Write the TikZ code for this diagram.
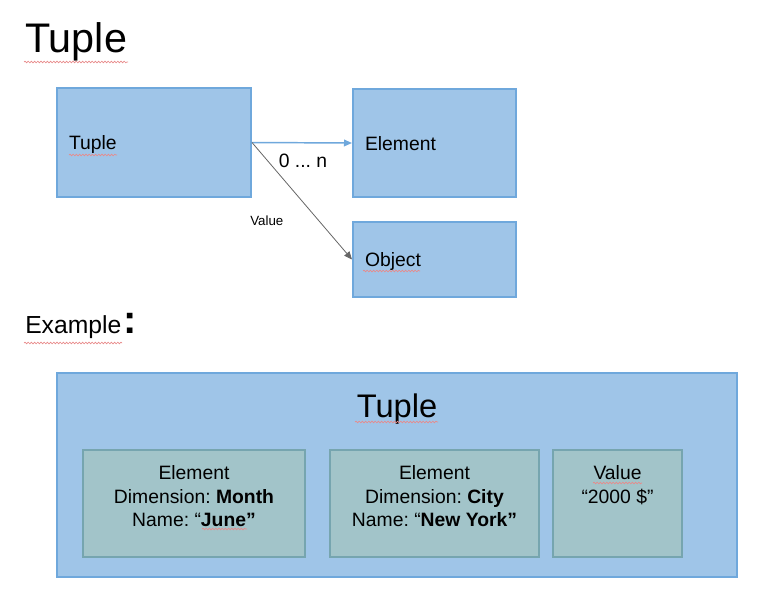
\documentclass[tikz,border=0pt]{standalone}
\usepackage{fontspec}
\setmainfont{Liberation Sans}
\usetikzlibrary{positioning,arrows.meta,decorations.pathmorphing}
\frenchspacing

\definecolor{boxblue}{HTML}{9FC5E8}
\definecolor{lineblue}{HTML}{6FA8DC}
\definecolor{boxteal}{HTML}{A2C4C9}
\definecolor{lineteal}{HTML}{76A5AF}
\definecolor{spellred}{HTML}{E88A8A}

\tikzset{
  bluebox/.style={draw=lineblue,fill=boxblue,line width=1.5pt,rectangle,inner sep=0pt},
  tealbox/.style={draw=lineteal,fill=boxteal,line width=1.5pt,rectangle,inner sep=0pt},
  lefttext/.style={align=left,inner xsep=9pt,inner ysep=0pt,text depth=0pt,font=\fontsize{14.5}{17.6}\selectfont},
  intext/.style={align=center,inner sep=0pt,font=\fontsize{14.5}{17.6}\selectfont},
  spell/.style={spellred,line width=0.5pt,decorate,
    decoration={snake,segment length=2.4pt,amplitude=0.6pt}}
}

\begin{document}
\begin{tikzpicture}[x=0.75pt,y=-0.75pt]
\useasboundingbox (0,0) rectangle (764,597);

% Heading
\node[anchor=base west,inner sep=0pt,font=\fontsize{31}{36}\selectfont] (title) at (25,52) {Tuple};

% Model boxes
\node[bluebox,lefttext,minimum width=145.5pt,minimum height=81.75pt,text width=127.5pt] (tuple) at (154,142.5) {Tuple};
\node[bluebox,lefttext,minimum width=122.25pt,minimum height=81pt,text width=104.25pt] (element) at (434.5,143) {Element};
\node[bluebox,lefttext,minimum width=122.25pt,minimum height=56.25pt,text width=104.25pt] (object) at (434.5,259.5) {Object};

% Connectors
\draw[lineblue,line width=1.1pt,-{Triangle[length=6pt,width=5pt]}] (tuple.east) -- (element.west);
\draw[black!60,line width=0.6pt,-{Triangle[length=6pt,width=5pt]}] (tuple.east) -- (object.west);
\node[anchor=base,inner sep=0pt,font=\fontsize{14.5}{17.6}\selectfont] (card) at (303,167) {0 ... n};
\node[anchor=base west,inner sep=0pt,font=\fontsize{10}{12}\selectfont] (vallbl) at (250,225) {Value};

% Example
\node[anchor=base west,inner sep=0pt,font=\fontsize{18.5}{22}\selectfont] (example) at (25,333)
  {Example\kern1.5pt{\fontsize{30}{32}\selectfont\bfseries :}};

\node[bluebox,minimum width=510pt,minimum height=153pt] (outer) at (397,475) {};
\node[anchor=base,inner sep=0pt,font=\fontsize{24.5}{28}\selectfont] (outertitle) at (397,417) {Tuple};

\node[tealbox,minimum width=166.5pt,minimum height=80.25pt] (month) at (194,503.5) {};
\node[tealbox,minimum width=156.75pt,minimum height=80.25pt] (city) at (434.5,503.5) {};
\node[tealbox,minimum width=96.75pt,minimum height=80.25pt] (amount) at (617.5,503.5) {};

\node[intext,below=12.5pt of month.north] (monthtext)
  {Element\\Dimension: \textbf{Month}\\Name: “\textbf{June”}};
\node[intext,below=12.5pt of city.north] (citytext)
  {Element\\Dimension: \textbf{City}\\Name: “\textbf{New York”}};
\node[intext,below=12.5pt of amount.north] (amounttext)
  {Value\\“2000 \$”};

% spell-check marks
\draw[spell] (24,62) -- (128,62);
\draw[spell] (69,155) -- (117,155);
\draw[spell] (363,271) -- (420,271);
\draw[spell] (24,343) -- (122,343);
\draw[spell] (355,422) -- (438,422);
\draw[spell] (202,529) -- (247,529);
\draw[spell] (593,483) -- (642,483);

\end{tikzpicture}
\end{document}
